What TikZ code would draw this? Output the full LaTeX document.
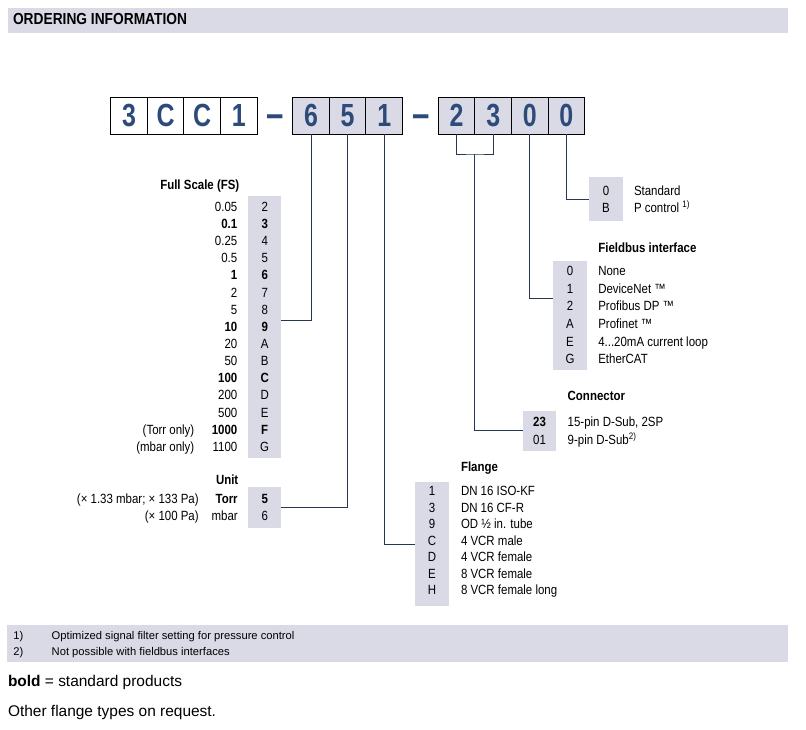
\documentclass[tikz,border=0pt]{standalone}
\usepackage{fontspec}
\setmainfont{Liberation Sans}
\newfontfamily\narrowfont{Liberation Sans}[FakeStretch=0.86]
\newfontfamily\digitfont{Liberation Sans}[FakeStretch=0.78]
\usetikzlibrary{calc, positioning}

\definecolor{panelgray}{RGB}{218,218,230}
\definecolor{codeblue}{RGB}{44,74,122}
\definecolor{leadcol}{RGB}{40,56,84}

\begin{document}
\begin{tikzpicture}[
	x = 0.75pt, y = -0.75pt,
	every node/.style = {inner sep=0pt, outer sep=0pt},
	list/.style = {font=\narrowfont\fontsize{10}{12}\selectfont},
	head/.style = {font=\narrowfont\bfseries\fontsize{10}{12}\selectfont},
	digit/.style = {draw, line width=0.75pt, minimum width=27.45pt, minimum height=27.75pt, font=\digitfont\bfseries\fontsize{24}{24}\selectfont, text=codeblue},
	joiner/.style = {font=\digitfont\bfseries\fontsize{30}{30}\selectfont, text=codeblue},
	panel/.style = {fill=panelgray, minimum width=25.1pt},
	lead/.style = {draw=leadcol, line width=0.75pt}
]
\useasboundingbox (0,0) rectangle (806,729);

\fill[panelgray] (8,7.5) rectangle (788,32.7);
\node[font=\narrowfont\bfseries\fontsize{12}{14}\selectfont, anchor=base west] (title) at (13,24.5) {ORDERING INFORMATION};

\foreach \c [count=\i] in {3,C,C,1}
	\node[digit, fill=white] (t\i) at ({129+36.6*(\i-1)},115.5) {\c};
\node[joiner, anchor=base] (joiner 1) at (275,127) {–};
\foreach \c [count=\i] in {6,5,1}
	\node[digit, fill=panelgray] (d\i) at ({311+36.6*(\i-1)},115.5) {\c};
\node[joiner, anchor=base] (joiner 2) at (421.3,127) {–};
\foreach \c [count=\i] in {2,3,0,0}
	\node[digit, fill=panelgray] (e\i) at ({456.6+36.6*(\i-1)},115.5) {\c};

\node[head, anchor=base east] (fs head) at (239.3,189.7) {Full Scale (FS)};
\node[panel, minimum height=196.7pt] (fs box) at (264.7,327.2) {};
\foreach \val/\code/\wt [count=\i] in {0.05/2/\mdseries, 0.1/3/\bfseries, 0.25/4/\mdseries, 0.5/5/\mdseries, 1/6/\bfseries, 2/7/\mdseries, 5/8/\mdseries, 10/9/\bfseries, 20/A/\mdseries, 50/B/\mdseries, 100/C/\bfseries, 200/D/\mdseries, 500/E/\mdseries, 1000/F/\bfseries, 1100/G/\mdseries} {
	\node[list, anchor=base east] (fs val \i) at (237.3,{211.4+17.14*(\i-1)}) {\wt\val};
	\node[list, anchor=base] (fs code \i) at (264.7,{211.4+17.14*(\i-1)}) {\wt\code};
}
\node[list, anchor=base east] (torr only) at (194.3,{211.4+17.14*13}) {(Torr only)};
\node[list, anchor=base east] (mbar only) at (194.3,{211.4+17.14*14}) {(mbar only)};

\node[head, anchor=base east] (unit head) at (238.3,484.7) {Unit};
\node[panel, minimum height=31.1pt] (unit box) at (264.7,507.7) {};
\node[head, anchor=base east] (torr) at (237.7,503.7) {Torr};
\node[list, anchor=base east] (mbar) at (237.7,520.7) {mbar};
\node[head, anchor=base] (torr code) at (264.7,503.7) {5};
\node[list, anchor=base] (mbar code) at (264.7,520.7) {6};
\node[list, anchor=base east] (torr note) at (198.7,503.7) {(× 1.33 mbar; × 133 Pa)};
\node[list, anchor=base east] (mbar note) at (198.7,520.7) {(× 100 Pa)};

\node[head, anchor=base west] (flange head) at (461,471.7) {Flange};
\node[panel, minimum height=93.4pt] (flange box) at (432,544.2) {};
\foreach \code/\txt [count=\i] in {1/DN 16 ISO-KF, 3/DN 16 CF-R, 9/OD ½ in. tube, C/4 VCR male, D/4 VCR female, E/8 VCR female, H/8 VCR female long} {
	\node[list, anchor=base] (flange code \i) at (432,{495.7+16.5*(\i-1)}) {\code};
	\node[list, anchor=base west] (flange txt \i) at (461,{495.7+16.5*(\i-1)}) {\txt};
}

\node[head, anchor=base west] (conn head) at (567.7,400.7) {Connector};
\node[panel, minimum height=29.8pt] (conn box) at (539.5,430.8) {};
\node[head, anchor=base] (conn code 1) at (539.5,426.7) {23};
\node[list, anchor=base] (conn code 2) at (539.5,444.2) {01};
\node[list, anchor=base west] (conn txt 1) at (567.7,426.7) {15-pin D-Sub, 2SP};
\node[list, anchor=base west] (conn txt 2) at (567.7,444.2) {9-pin D-Sub\textsuperscript{2)}};

\node[head, anchor=base west] (fb head) at (598.3,252.4) {Fieldbus interface};
\node[panel, minimum height=81.75pt] (fb box) at (570,315.5) {};
\foreach \code/\txt [count=\i] in {0/None, 1/DeviceNet ™, 2/Profibus DP ™, A/Profinet ™, E/4.{}.{}.20mA current loop, G/EtherCAT} {
	\node[list, anchor=base] (fb code \i) at (570,{275.7+17.6*(\i-1)}) {\code};
	\node[list, anchor=base west] (fb txt \i) at (598.3,{275.7+17.6*(\i-1)}) {\txt};
}

\node[panel, minimum height=32.55pt] (mode box) at (606,199) {};
\node[list, anchor=base] (mode code 1) at (606,195.4) {0};
\node[list, anchor=base] (mode code 2) at (606,212) {B};
\node[list, anchor=base west] (mode txt 1) at (634,195.4) {Standard};
\node[list, anchor=base west] (mode txt 2) at (634,212) {P control \textsuperscript{1)}};

\coordinate (fs in) at (fs box.east |- 0,320);
\coordinate (pair) at (e1.south east |- 0,154);
\coordinate (fb in) at (fb box.west |- 0,298);

\draw[lead] (d1.south) |- (fs in);
\draw[lead] (d2.south) |- (unit box.east);
\draw[lead] (d3.south) |- (flange box.west);
\draw[lead] (e1.south) |- (pair) -| (e2.south);
\draw[lead] (pair) |- (conn box.west);
\draw[lead] (e3.south) |- (fb in);
\draw[lead] (e4.south) |- (mode box.west);

\fill[panelgray] (7.3,625) rectangle (788,661.7);
\foreach \num/\txt [count=\i] in {1)/Optimized signal filter setting for pressure control, 2)/Not possible with fieldbus interfaces} {
	\node[font=\fontsize{8.4}{10}\selectfont, anchor=base west] (note num \i) at (13.3,{639+16.5*(\i-1)}) {\num};
	\node[font=\fontsize{8.4}{10}\selectfont, anchor=base west] (note txt \i) at (51.7,{639+16.5*(\i-1)}) {\txt};
}
\node[font=\fontsize{11.6}{14}\selectfont, anchor=base west] (bold note) at (8,686.5) {\textbf{bold} = standard products};
\node[font=\fontsize{11.6}{14}\selectfont, anchor=base west] (other note) at (8,716) {Other flange types on request.};

\end{tikzpicture}
\end{document}
